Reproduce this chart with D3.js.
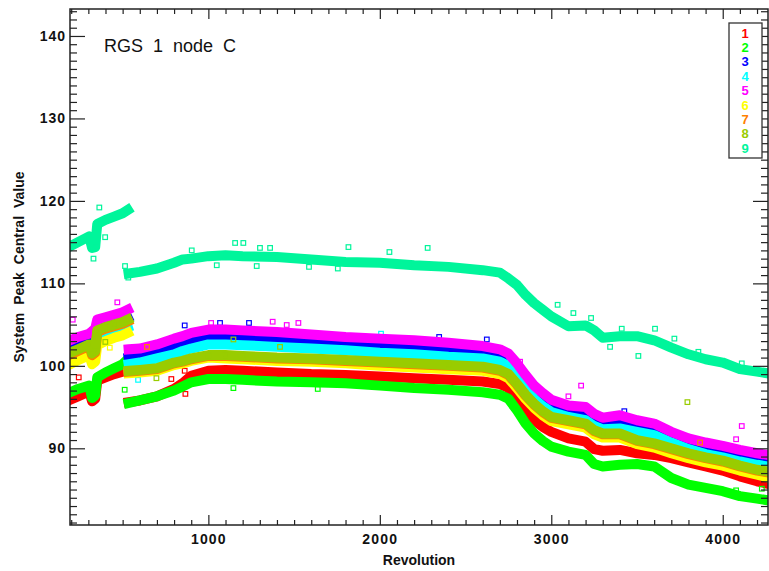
<!DOCTYPE html>
<html>
<head>
<meta charset="utf-8">
<script src="https://cdn.jsdelivr.net/npm/d3@7"></script>
<style>
  body { margin: 0; background: #fff; }
  text { font-family: "Liberation Sans", Arial, sans-serif; fill: #111; }
</style>
</head>
<body>
<div id="chart"></div>
<script>
// revolutions sampled along the bands (first block, then after the jump near rev 532)
const revA = [195, 240, 305, 322, 340, 352, 400, 450, 500, 530];
const revB = [535, 600, 700, 800, 850, 900, 1000, 1100, 1200, 1400, 1600, 1800, 2000, 2200, 2400, 2600,
              2700, 2750, 2800, 2850, 2900, 2950, 3000, 3100, 3200, 3250, 3300,
              3400, 3500, 3600, 3700, 3800, 3900, 4000, 4100, 4200, 4260];

// node values, series 1..9
const v1a = [95.9, 96.3, 96.9, 95.7, 96.0, 98.2, 98.6, 99.0, 99.3, 99.6];
const v2a = [96.8, 97.2, 97.6, 96.1, 96.4, 98.6, 99.2, 99.7, 100.2, 100.8];
const v3a = [102.3, 102.6, 103.0, 103.3, 103.6, 104.6, 104.9, 105.2, 105.5, 105.8];
const v4a = [101.6, 101.9, 102.3, 102.5, 102.8, 103.9, 104.1, 104.3, 104.5, 104.7];
const v5a = [103.1, 103.5, 103.9, 104.2, 104.5, 105.6, 105.9, 106.2, 106.5, 106.8];
const v6a = [100.2, 100.7, 101.3, 100.2, 100.5, 102.5, 103.0, 103.4, 103.7, 104.0];
const v7a = [101.4, 101.8, 102.4, 101.3, 101.6, 104.1, 104.5, 104.8, 105.1, 105.4];
const v8a = [101.6, 102.0, 102.6, 101.5, 101.8, 104.3, 104.7, 105.0, 105.3, 105.6];
const v9a = [114.5, 115.0, 115.7, 114.3, 114.4, 117.2, 117.7, 118.1, 118.5, 118.9];

const v1b = [95.6, 95.8, 96.3, 97.2, 97.9, 98.8, 99.4, 99.5, 99.4, 99.2, 99.0, 98.9, 98.7, 98.5, 98.3, 98.1,
             97.8, 97.3, 96.1, 94.6, 93.4, 92.6, 92.0, 91.2, 90.8, 89.9, 89.7,
             89.8, 89.4, 89.2, 88.8, 88.3, 87.8, 87.3, 86.6, 86.0, 85.7];
const v2b = [95.5, 95.8, 96.3, 97.0, 97.5, 98.0, 98.4, 98.4, 98.3, 98.1, 98.0, 97.9, 97.6, 97.3, 97.1, 96.8,
             96.5, 96.0, 94.6, 93.0, 91.8, 90.9, 90.2, 89.6, 89.2, 88.1, 87.8,
             88.0, 88.1, 87.8, 86.4, 85.6, 85.2, 84.8, 84.2, 83.9, 83.7];
const v3b = [101.0, 101.2, 101.7, 102.3, 102.7, 103.0, 103.5, 103.6, 103.5, 103.2, 103.0, 102.6, 102.4, 102.1, 101.9, 101.5,
             101.1, 100.6, 99.4, 98.0, 96.7, 95.8, 95.0, 94.3, 94.0, 93.2, 92.9,
             93.1, 92.6, 92.2, 91.2, 90.4, 89.8, 89.4, 88.9, 88.5, 88.3];
const v4b = [100.2, 100.4, 100.9, 101.4, 101.8, 102.1, 102.6, 102.6, 102.5, 102.3, 102.1, 101.9, 101.6, 101.4, 101.1, 100.9,
             100.5, 100.0, 98.7, 97.3, 96.0, 95.1, 94.4, 93.8, 93.4, 92.7, 92.3,
             92.4, 92.0, 91.6, 90.7, 89.9, 89.3, 88.9, 88.4, 88.0, 87.8];
const v5b = [102.0, 102.1, 102.6, 103.3, 103.6, 104.0, 104.4, 104.4, 104.3, 104.1, 103.8, 103.5, 103.3, 103.1, 102.8, 102.4,
             102.0, 101.5, 100.3, 98.9, 97.6, 96.7, 95.9, 95.2, 95.0, 94.2, 93.7,
             94.0, 93.4, 93.0, 92.0, 91.2, 90.7, 90.3, 89.8, 89.4, 89.2];
const v6b = [99.1, 99.2, 99.4, 100.1, 100.3, 100.6, 101.0, 100.9, 100.8, 100.6, 100.5, 100.3, 100.0, 99.8, 99.6, 99.4,
             99.0, 98.5, 97.3, 96.0, 94.9, 94.0, 93.3, 92.9, 92.5, 91.7, 91.3,
             91.3, 90.5, 90.1, 89.4, 88.8, 88.3, 87.9, 87.3, 86.8, 86.5];
const v7b = [99.3, 99.4, 99.6, 100.3, 100.5, 100.8, 101.2, 101.2, 101.1, 100.9, 100.8, 100.6, 100.4, 100.2, 100.0, 99.8,
             99.4, 98.9, 97.7, 96.4, 95.3, 94.4, 93.7, 93.3, 92.9, 92.1, 91.7,
             91.7, 90.9, 90.5, 89.9, 89.3, 88.8, 88.4, 87.8, 87.3, 87.1];
const v8b = [99.4, 99.5, 99.7, 100.4, 100.6, 100.9, 101.3, 101.3, 101.2, 101.0, 100.9, 100.7, 100.5, 100.3, 100.1, 99.9,
             99.5, 99.0, 97.8, 96.5, 95.4, 94.5, 93.8, 93.4, 93.0, 92.2, 91.8,
             91.8, 91.0, 90.6, 90.0, 89.4, 88.9, 88.5, 87.9, 87.4, 87.2];
const v9b = [111.2, 111.4, 111.8, 112.5, 112.9, 113.0, 113.3, 113.4, 113.3, 113.2, 112.9, 112.6, 112.5, 112.2, 112.0, 111.6,
             111.3, 110.6, 109.8, 108.6, 107.6, 106.8, 106.0, 104.8, 104.9, 104.3, 103.4,
             103.6, 103.6, 103.1, 102.2, 101.4, 100.8, 100.4, 99.6, 99.3, 99.1];

// stray points [rev, value]
const o1 = [[244, 98.6], [328, 95.7], [784, 98.4], [862, 99.4], [866, 96.6]];
const o2 = [[512, 97.1], [1146, 97.3], [1638, 97.2], [4078, 84.9], [4228, 85.1]];
const o3 = [[862, 104.9], [1068, 105.2], [1237, 105.2], [2346, 103.5], [2624, 103.2], [3426, 94.5]];
const o4 = [[590, 98.3], [2007, 103.9]];
const o5 = [[209, 105.6], [469, 107.7], [1016, 105.2], [1375, 105.35], [1457, 104.95], [1525, 105.2],
            [2818, 100.5], [3100, 96.3], [3174, 97.6], [4078, 91.1], [4111, 92.7]];
const o6 = [[425, 102.2]];
const o7 = [[642, 102.3], [3868, 90.7]];
const o8 = [[399, 102.9], [697, 98.5], [1146, 103.2], [1418, 102.3], [3794, 95.6]];
const o9 = [[330, 113.0], [364, 119.2], [398, 115.6], [514, 112.1], [533, 110.7], [903, 114.0], [1049, 112.2],
            [1156, 114.9], [1204, 114.9], [1282, 112.1], [1301, 114.3], [1360, 114.3], [1587, 112.0], [1755, 111.8],
            [1817, 114.4], [2056, 113.8], [2279, 114.3], [3037, 107.4], [3129, 106.4], [3232, 105.8], [3343, 102.3],
            [3411, 104.5], [3508, 101.2], [3605, 104.5], [3718, 103.3], [3858, 101.7], [4111, 100.3]];

const labels = ["1", "2", "3", "4", "5", "6", "7", "8", "9"];
const colors = ["#ff0000", "#00ff00", "#0000ff", "#00ffff", "#ff00ff", "#ffff00", "#ff8000", "#99cc00", "#00f59b"];
const xMajor = [1000, 2000, 3000, 4000];
const yMajor = [90, 100, 110, 120, 130, 140];

const bandsA = [v1a, v2a, v3a, v4a, v5a, v6a, v7a, v8a, v9a];
const bandsB = [v1b, v2b, v3b, v4b, v5b, v6b, v7b, v8b, v9b];
const strays = [o1, o2, o3, o4, o5, o6, o7, o8, o9];

const width = 769, height = 571;
const pLeft = 70, pRight = 768, pTop = 9, pBottom = 525;

const svg = d3.select('#chart').append('svg')
    .attr('width', width)
    .attr('height', height);

const x = d3.scaleLinear().domain([193, 4264]).range([pLeft, pRight]);
const y = d3.scaleLinear().domain([80.7, 143.27]).range([pBottom, pTop]);

svg.append('clipPath').attr('id', 'plot')
    .append('rect')
    .attr('x', pLeft).attr('y', pTop)
    .attr('width', pRight - pLeft).attr('height', pBottom - pTop);

const plot = svg.append('g').attr('clip-path', 'url(#plot)');
const line = d3.line().x(d => x(d[0])).y(d => y(d[1]));

// series drawn 1..9, later ones over earlier ones
bandsA.forEach((va, i) => {
    const g = plot.append('g');
    const segs = [revA.map((r, k) => [r, va[k]]), revB.map((r, k) => [r, bandsB[i][k]])];
    segs.forEach(seg => {
        g.append('path')
            .attr('d', line(seg))
            .attr('fill', 'none')
            .attr('stroke', colors[i])
            .attr('stroke-width', 10)
            .attr('stroke-linejoin', 'round')
            .attr('stroke-linecap', 'square');
    });
    g.selectAll('.pt')
        .data(segs[0].concat(segs[1]).concat(strays[i]))
        .enter().append('rect')
        .attr('x', d => x(d[0]) - 2.3)
        .attr('y', d => y(d[1]) - 2.3)
        .attr('width', 4.6)
        .attr('height', 4.6)
        .attr('fill', 'none')
        .attr('stroke', colors[i])
        .attr('stroke-width', 1.2);
});

// axes, ticks pointing inward on all four sides
const xMinor = d3.range(200, 4264, 100).filter(v => !xMajor.includes(v));
const yMinor = d3.range(81, 144, 1).filter(v => !yMajor.includes(v));

function styleAxis(g) {
    g.select('.domain').remove();
    g.selectAll('line').attr('stroke', '#222').attr('stroke-width', 1.2);
}

svg.append('g').attr('transform', `translate(0,${pBottom})`)
    .call(d3.axisBottom(x).tickValues(xMajor).tickSize(-10).tickPadding(9).tickFormat(d3.format('d')))
    .call(styleAxis)
    .selectAll('text').attr('font-size', 14).attr('font-weight', 'bold').attr('letter-spacing', 1.2);
svg.append('g').attr('transform', `translate(0,${pBottom})`)
    .call(d3.axisBottom(x).tickValues(xMinor).tickSize(-5).tickFormat(''))
    .call(styleAxis);
svg.append('g').attr('transform', `translate(0,${pTop})`)
    .call(d3.axisTop(x).tickValues(xMajor).tickSize(-10).tickFormat(''))
    .call(styleAxis);
svg.append('g').attr('transform', `translate(0,${pTop})`)
    .call(d3.axisTop(x).tickValues(xMinor).tickSize(-5).tickFormat(''))
    .call(styleAxis);

svg.append('g').attr('transform', `translate(${pLeft},0)`)
    .call(d3.axisLeft(y).tickValues(yMajor).tickSize(-15).tickPadding(4))
    .call(styleAxis)
    .selectAll('text').attr('font-size', 14).attr('font-weight', 'bold').attr('letter-spacing', 1);
svg.append('g').attr('transform', `translate(${pLeft},0)`)
    .call(d3.axisLeft(y).tickValues(yMinor).tickSize(-7).tickFormat(''))
    .call(styleAxis);
svg.append('g').attr('transform', `translate(${pRight},0)`)
    .call(d3.axisRight(y).tickValues(yMajor).tickSize(-15).tickFormat(''))
    .call(styleAxis);
svg.append('g').attr('transform', `translate(${pRight},0)`)
    .call(d3.axisRight(y).tickValues(yMinor).tickSize(-7).tickFormat(''))
    .call(styleAxis);

svg.append('rect')
    .attr('x', pLeft).attr('y', pTop)
    .attr('width', pRight - pLeft).attr('height', pBottom - pTop)
    .attr('fill', 'none').attr('stroke', '#222').attr('stroke-width', 1.5);

// titles
svg.append('text')
    .attr('x', (pLeft + pRight) / 2).attr('y', 565)
    .attr('text-anchor', 'middle')
    .attr('font-size', 14).attr('font-weight', 'bold')
    .text('Revolution');

svg.append('text')
    .attr('transform', `translate(24,${(pTop + pBottom) / 2}) rotate(-90)`)
    .attr('text-anchor', 'middle')
    .attr('font-size', 14).attr('font-weight', 'bold')
    .attr('word-spacing', 4)
    .text('System Peak Central Value');

svg.append('text')
    .attr('x', 104).attr('y', 52)
    .attr('font-size', 18)
    .attr('word-spacing', 5)
    .text('RGS 1 node C');

// legend
const legend = svg.append('g');
legend.append('rect')
    .attr('x', 729).attr('y', 23)
    .attr('width', 33).attr('height', 135)
    .attr('fill', '#fff').attr('stroke', '#333').attr('stroke-width', 1.3);
legend.selectAll('.lab')
    .data(labels)
    .enter().append('text')
    .attr('x', 745)
    .attr('y', (d, i) => 37.5 + i * 14.4)
    .attr('text-anchor', 'middle')
    .attr('font-size', 13).attr('font-weight', 'bold')
    .style('fill', (d, i) => colors[i])
    .text(d => d);
</script>
</body>
</html>
